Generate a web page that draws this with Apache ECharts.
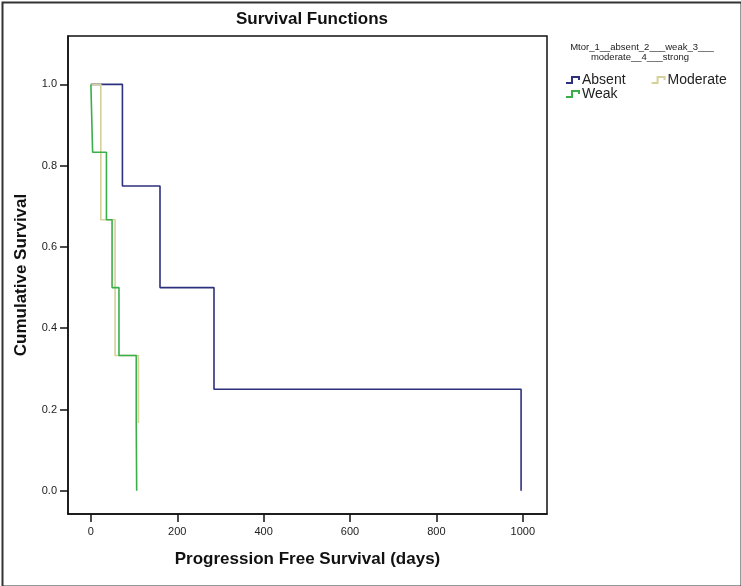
<!DOCTYPE html>
<html>
<head>
<meta charset="utf-8">
<script src="https://cdn.jsdelivr.net/npm/echarts@6/dist/echarts.min.js"></script>
<style>html,body{margin:0;padding:0;background:#fff}#c{width:741px;height:586px}</style>
</head>
<body>
<div id="c"></div>
<script>
// ---- data ----
const xTicks = [0, 200, 400, 600, 800, 1000];
const yTicks = [0, 0.2, 0.4, 0.6, 0.8, 1.0];
const groups = ['Absent', 'Weak', 'Moderate'];
const absentTimes = [73, 160, 285, 996];
const absentSurv = [0.75, 0.5, 0.25, 0];
const weakTimes = [4, 36, 49, 65, 105, 106];
const weakSurv = [0.833, 0.667, 0.5, 0.333, 0.167, 0];
const moderateTimes = [23, 56, 110];
const moderateSurv = [0.667, 0.333, 0.167];

function kmPath(times, surv) {
  const pts = [[0, 1]];
  let prev = 1;
  for (let i = 0; i < times.length; i++) {
    pts.push([times[i], prev]);
    pts.push([times[i], surv[i]]);
    prev = surv[i];
  }
  return pts;
}

const colors = { Absent: '#2d307c', Weak: '#3aae48', Moderate: '#d6d09a' };
const icon = 'path://M0,6 L5,6 L5,0 L14,0 L14,4 L12,4 L12,2 L7,2 L7,8 L0,8 Z';
const font = 'Liberation Sans, Arial, sans-serif';

const chart = echarts.init(document.getElementById('c'), null, { renderer: 'canvas' });
chart.setOption({
  animation: false,
  backgroundColor: '#fff',
  title: {
    text: 'Survival Functions', left: 307, top: 6, textAlign: 'center',
    textStyle: { fontFamily: font, fontSize: 17, fontWeight: 'bold', color: '#111' }
  },
  graphic: [
    { type: 'rect', left: 0, top: 0, shape: { width: 739, height: 584 }, style: { fill: 'none', stroke: '#333', lineWidth: 2 } },
    { type: 'text', x: 642, y: 42, style: { text: 'Mtor_1__absent_2___weak_3___', font: '9.5px ' + font, fill: '#222', align: 'center' } },
    { type: 'text', x: 640, y: 52, style: { text: 'moderate__4___strong', font: '9.5px ' + font, fill: '#222', align: 'center' } }
  ],
  legend: [
    {
      data: [{ name: 'Absent', icon: icon }, { name: 'Moderate', icon: icon }],
      left: 566, top: 73, orient: 'horizontal', itemWidth: 14, itemHeight: 8, itemGap: 26, padding: 0,
      textStyle: { fontFamily: font, fontSize: 14, color: '#222', padding: [0, 0, 0, -3] }
    },
    {
      data: [{ name: 'Weak', icon: icon }],
      left: 566, top: 87, orient: 'horizontal', itemWidth: 14, itemHeight: 8, padding: 0,
      textStyle: { fontFamily: font, fontSize: 14, color: '#222', padding: [0, 0, 0, -3] }
    }
  ],
  grid: { left: 68, top: 36, right: 194, bottom: 72, show: true, borderColor: '#111', borderWidth: 1.5, containLabel: false },
  xAxis: {
    type: 'value', min: -53, max: 1056,
    name: 'Progression Free Survival (days)', nameLocation: 'middle', nameGap: 37,
    nameTextStyle: { fontFamily: font, fontSize: 17, fontWeight: 'bold', color: '#111' },
    axisLine: { show: true, onZero: false, lineStyle: { color: '#111', width: 1.5 } },
    axisTick: { show: true, length: 8, customValues: xTicks, lineStyle: { color: '#111', width: 1.5 } },
    axisLabel: { customValues: xTicks, fontFamily: font, fontSize: 11, color: '#222', margin: 12,
      formatter: v => String(Math.round(v)) },
    splitLine: { show: false }
  },
  yAxis: {
    type: 'value', min: -0.057, max: 1.119,
    name: 'Cumulative Survival', nameLocation: 'middle', nameGap: 38,
    nameTextStyle: { fontFamily: font, fontSize: 17, fontWeight: 'bold', color: '#111' },
    axisLine: { show: true, onZero: false, lineStyle: { color: '#111', width: 1.5 } },
    axisTick: { show: true, length: 8, customValues: yTicks, lineStyle: { color: '#111', width: 1.5 } },
    axisLabel: { customValues: yTicks, fontFamily: font, fontSize: 11, color: '#222', margin: 11,
      formatter: v => v.toFixed(1) },
    splitLine: { show: false }
  },
  series: [
    { name: 'Absent', type: 'line', data: kmPath(absentTimes, absentSurv), showSymbol: false, symbol: 'none',
      color: colors.Absent, lineStyle: { width: 1.6, color: colors.Absent } },
    { name: 'Moderate', type: 'line', data: kmPath(moderateTimes, moderateSurv), showSymbol: false, symbol: 'none',
      color: colors.Moderate, lineStyle: { width: 1.6, color: colors.Moderate } },
    { name: 'Weak', type: 'line', data: kmPath(weakTimes, weakSurv), showSymbol: false, symbol: 'none',
      color: colors.Weak, lineStyle: { width: 1.6, color: colors.Weak } }
  ]
});
</script>
</body>
</html>
